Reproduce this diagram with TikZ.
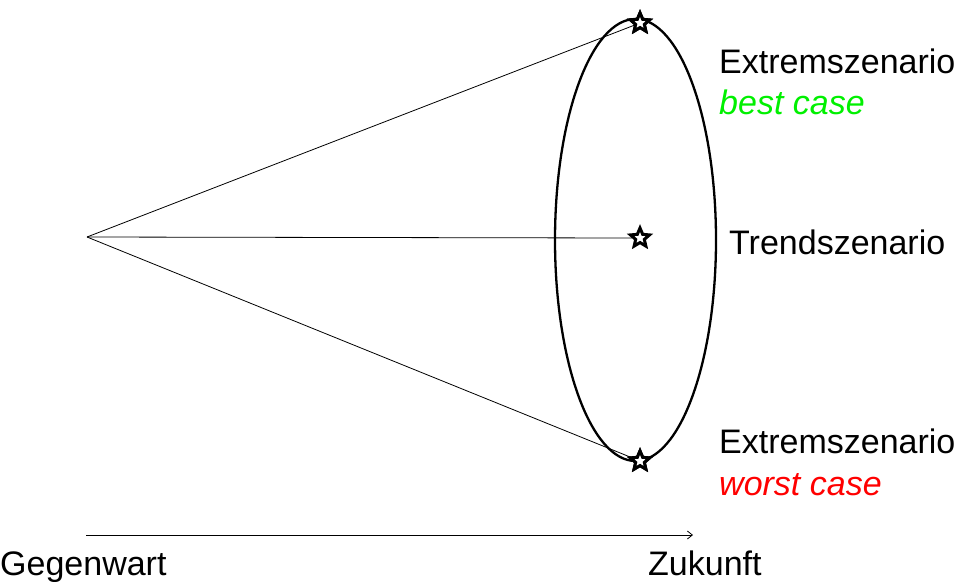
\documentclass[tikz,border=0pt]{standalone}
\usepackage{fontspec}
\setmainfont{Liberation Sans}
\usetikzlibrary{shapes.geometric,arrows.meta}
\definecolor{bestgreen}{RGB}{0,240,0}
\definecolor{worstred}{RGB}{255,0,0}
\begin{document}
\begin{tikzpicture}[x=1pt,y=-1pt,
  lbl/.style={anchor=base west,inner sep=0pt,font=\fontsize{34}{40}\selectfont},
  starnode/.style={star,star points=5,star point ratio=2.2,draw,line width=3pt,minimum size=20pt,inner sep=0pt,fill=white},
  thin line/.style={line width=0.8pt}]
\useasboundingbox (0,0) rectangle (966,581);
\draw[line width=2.3pt] (635.5,240) ellipse [x radius=80.5, y radius=221];
\coordinate (apex) at (87,237);
\node[starnode] (top) at (640,23) {};
\node[starnode] (mid) at (640,238) {};
\node[starnode] (bot) at (640,461) {};
\draw[thin line] (apex) -- (top.center);
\draw[thin line] (apex) -- (mid.west);
\draw[thin line] (apex) -- (bot.center);
\node[starnode] at (top) {};
\node[starnode] at (bot) {};
\node[lbl] (ex1) at (719,73) {Extremszenario};
\node[lbl,text=bestgreen] (best) at (719,114) {\itshape best case};
\node[lbl] (trend) at (729,254) {Trendszenario};
\node[lbl] (ex2) at (719,453) {Extremszenario};
\node[lbl,text=worstred] (worst) at (719,495) {\itshape worst case};
\coordinate (a0) at (86,535);
\coordinate (a1) at (693,535);
\draw[thin line,-{Straight Barb[length=5pt,width=8pt]}] (a0) -- (a1);
\node[lbl] (gw) at (0,575) {Gegenwart};
\node[lbl] (zk) at (648,575) {Zukunft};
\end{tikzpicture}
\end{document}
